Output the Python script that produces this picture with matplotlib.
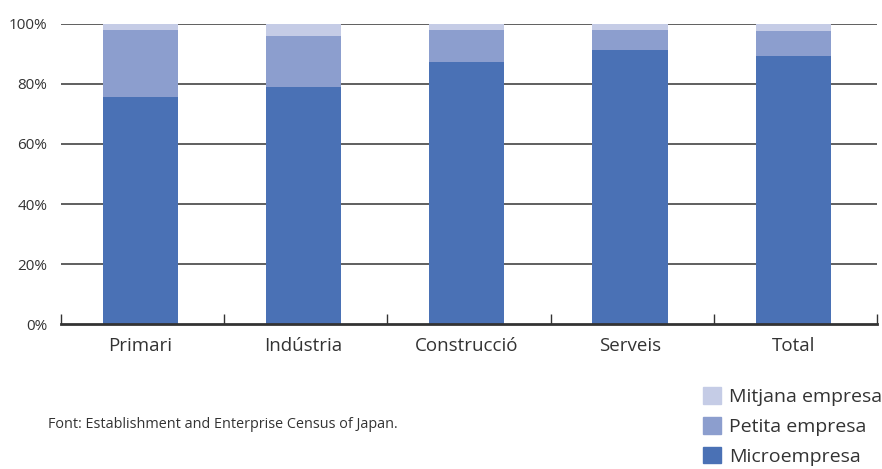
import numpy as np
import matplotlib.pyplot as plt
from matplotlib.patches import Patch

plt.rcParams['font.family'] = ['Open Sans', 'DejaVu Sans']

# --- Dades ---
categories = ["Primari", "Indústria", "Construcció", "Serveis", "Total"]
micro = [75.7, 79.1, 87.4, 91.4, 89.4]
petita = [22.3, 17.0, 10.6, 6.6, 8.3]
mitjana = [2.0, 3.9, 2.0, 2.0, 2.3]
y_ticks = [0, 20, 40, 60, 80, 100]

c_micro = "#4a71b5"
c_petita = "#8c9ece"
c_mitjana = "#c5cce6"

fig = plt.figure(figsize=(8.82, 4.69), dpi=100)
ax = fig.add_axes([0.0692, 0.309, 0.925, 0.64])

x = np.arange(len(categories))
w = 0.46
ax.bar(x, micro, w, color=c_micro, zorder=2)
ax.bar(x, petita, w, bottom=micro, color=c_petita, zorder=2)
bottom2 = np.array(micro) + np.array(petita)
ax.bar(x, mitjana, w, bottom=bottom2, color=c_mitjana, zorder=2)

ax.set_xlim(-0.487, 4.512)
ax.set_ylim(0, 100)
ax.set_yticks(y_ticks)
ax.set_yticklabels([f"{v}%" for v in y_ticks], fontsize=11, color="#333333")
for v in y_ticks[1:]:
    ax.axhline(v, color="#444444", lw=1.2, zorder=1)

ax.set_xticks(x)
ax.set_xticklabels(categories, fontsize=13.5, color="#333333")
ax.tick_params(axis="x", length=0, pad=9)
ax.tick_params(axis="y", length=0, pad=10)
# marques entre categories
ax.set_xticks(np.arange(len(categories) + 1) - 0.487, minor=True)
ax.tick_params(axis="x", which="minor", direction="in", length=7, width=1, color="#333333")

for s in ["top", "right", "left"]:
    ax.spines[s].set_visible(False)
ax.spines["bottom"].set_color("#333333")
ax.spines["bottom"].set_linewidth(2)

handles = [Patch(color=c_mitjana, label="Mitjana empresa"),
           Patch(color=c_petita, label="Petita empresa"),
           Patch(color=c_micro, label="Microempresa")]
fig.legend(handles=handles, loc="lower left", bbox_to_anchor=(0.777, -0.03),
           frameon=False, fontsize=14, handlelength=0.95, handleheight=0.95,
           handletextpad=0.4, labelspacing=0.55, labelcolor="#333333")

fig.text(0.054, 0.088, "Font: Establishment and Enterprise Census of Japan.",
         fontsize=10.4, color="#333333")

fig.savefig("out.png", dpi=100)
